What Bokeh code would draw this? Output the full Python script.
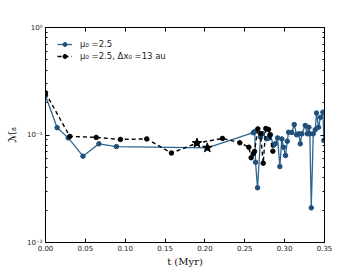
from bokeh.plotting import figure
from bokeh.models import (Range1d, LinearAxis, LogAxis, FixedTicker,
                          CustomJSTickFormatter)
from bokeh.embed import file_html
from bokeh.resources import INLINE

# --- data ---
t_a = [0.0, 0.0146, 0.0285, 0.047, 0.067, 0.089, 0.203, 0.2606, 0.2626, 0.2635,
       0.266, 0.2698, 0.2723, 0.2773, 0.2794, 0.2823, 0.2857, 0.2882, 0.2911,
       0.294, 0.2965, 0.2986, 0.3011, 0.3033, 0.3049, 0.309, 0.312, 0.315,
       0.3178, 0.3196, 0.3216, 0.3258, 0.3284, 0.3304, 0.3316, 0.3334, 0.3359,
       0.3384, 0.340, 0.3425, 0.345, 0.348, 0.3492]
m_a = [0.233, 0.117, 0.094, 0.0635, 0.0828, 0.078, 0.076, 0.105, 0.108, 0.0558,
       0.0323, 0.0954, 0.103, 0.0922, 0.0934, 0.1005, 0.0798, 0.0828, 0.094,
       0.0509, 0.092, 0.077, 0.0645, 0.0875, 0.106, 0.1055, 0.125, 0.1005,
       0.1026, 0.0828, 0.1026, 0.1226, 0.1026, 0.118, 0.1026, 0.021, 0.1026,
       0.112, 0.16, 0.118, 0.146, 0.163, 0.089]

t_b = [0.0, 0.0305, 0.0636, 0.094, 0.127, 0.158, 0.190, 0.222, 0.2438, 0.2551,
       0.258, 0.2606, 0.2622, 0.2664, 0.2698, 0.2731, 0.2764, 0.2798, 0.2815,
       0.2852]
m_b = [0.247, 0.097, 0.095, 0.091, 0.092, 0.068, 0.084, 0.093, 0.0846, 0.077,
       0.0614, 0.0669, 0.0703, 0.114, 0.1026, 0.0547, 0.115, 0.1125, 0.100,
       0.0707]

star_t = [0.190, 0.203]
star_m = [0.084, 0.076]

x_ticks = [0.0, 0.05, 0.10, 0.15, 0.20, 0.25, 0.30, 0.35]
x_tick_labels = ["0.00", "0.05", "0.10", "0.15", "0.20", "0.25", "0.30", "0.35"]
y_ticks = [0.01, 0.1, 1.0]
y_tick_labels = ["10\u207b\u00b2", "10\u207b\u00b9", "10\u2070"]
y_minor = [k * 10.0 ** e for e in (-2, -1) for k in range(2, 10)]

label_a = "\u03bc\u2080 =2.5"
label_b = "\u03bc\u2080 =2.5, \u0394x\u2080 =13 au"

BLUE = "#2b6591"
BLUE_DARK = "#1f4f7a"

p = figure(width=360, height=270, x_range=Range1d(0, 0.35),
           y_range=Range1d(0.01, 1.0), y_axis_type="log",
           output_backend="svg", toolbar_location=None,
           min_border_left=45, min_border_right=36, min_border_top=27,
           min_border_bottom=28)
p.grid.visible = False
p.outline_line_color = "black"
p.background_fill_color = "white"

xfmt = CustomJSTickFormatter(args=dict(vals=x_ticks, labs=x_tick_labels), code="""
let best = 0, bd = 1e9;
for (let i = 0; i < vals.length; i++) { const d = Math.abs(vals[i] - tick); if (d < bd) { bd = d; best = i; } }
return labs[best];
""")
yfmt = CustomJSTickFormatter(args=dict(vals=y_ticks, labs=y_tick_labels), code="""
let best = 0, bd = 1e9;
for (let i = 0; i < vals.length; i++) { const d = Math.abs(Math.log10(vals[i]) - Math.log10(tick)); if (d < bd) { bd = d; best = i; } }
return labs[best];
""")
blank = CustomJSTickFormatter(code="return '';")

xax = p.below[0]
xax.ticker = FixedTicker(ticks=x_ticks)
xax.formatter = xfmt
xax.axis_label = "t (Myr)"
xax.axis_label_text_font = "DejaVu Serif"
xax.axis_label_text_font_style = "normal"
xax.axis_label_text_font_size = "10px"
xax.axis_label_text_color = "#111111"
xax.axis_label_standoff = 2
xax.major_label_standoff = 2

yax = p.left[0]
yax.ticker = FixedTicker(ticks=y_ticks, minor_ticks=y_minor)
yax.formatter = yfmt
yax.axis_label = "\u2133\u2090"
yax.axis_label_text_font = "DejaVu Sans"
yax.axis_label_text_font_style = "normal"
yax.axis_label_text_font_size = "11px"
yax.axis_label_text_color = "#111111"
yax.axis_label_standoff = 5
yax.major_label_standoff = 3

top = LinearAxis(ticker=FixedTicker(ticks=x_ticks), formatter=blank)
right = LogAxis(ticker=FixedTicker(ticks=y_ticks, minor_ticks=y_minor), formatter=blank)
p.add_layout(top, "above")
p.add_layout(right, "right")

for ax in (xax, yax, top, right):
    ax.axis_line_color = "black"
    ax.major_tick_line_color = "black"
    ax.minor_tick_line_color = "black"
    ax.major_tick_in = 4
    ax.major_tick_out = 0
    ax.minor_tick_in = 2
    ax.minor_tick_out = 0
    ax.major_label_text_font = "DejaVu Sans"
    ax.major_label_text_font_size = "7px"
    ax.major_label_text_color = "#222222"
for ax in (xax, top):
    ax.minor_tick_line_color = None
top.major_label_text_font_size = "1px"
right.major_label_text_font_size = "1px"

# series A (blue, solid)
p.line(t_a, m_a, line_color=BLUE, line_width=1.3, legend_label=label_a)
p.scatter(t_a, m_a, marker="circle", size=4.5, fill_color=BLUE_DARK,
          line_color=BLUE_DARK, legend_label=label_a)

# series B (black, dashed)
p.line(t_b, m_b, line_color="black", line_width=1.4, line_dash="4 3",
       legend_label=label_b)
p.scatter(t_b, m_b, marker="circle", size=4.5, fill_color="black",
          line_color="black", legend_label=label_b)

# stars
p.scatter(star_t, star_m, marker="star", size=10, fill_color="black",
          line_color="black")

lg = p.legend[0]
lg.location = "top_left"
lg.margin = 0
lg.padding = 12
lg.glyph_width = 15
lg.glyph_height = 10
lg.label_height = 10
lg.spacing = 2
lg.label_standoff = 8
lg.label_text_font = "DejaVu Sans"
lg.label_text_font_size = "8.5px"
lg.label_text_color = "#222222"
lg.border_line_alpha = 0
lg.background_fill_alpha = 0

open("out.html", "w").write(file_html(p, INLINE))
